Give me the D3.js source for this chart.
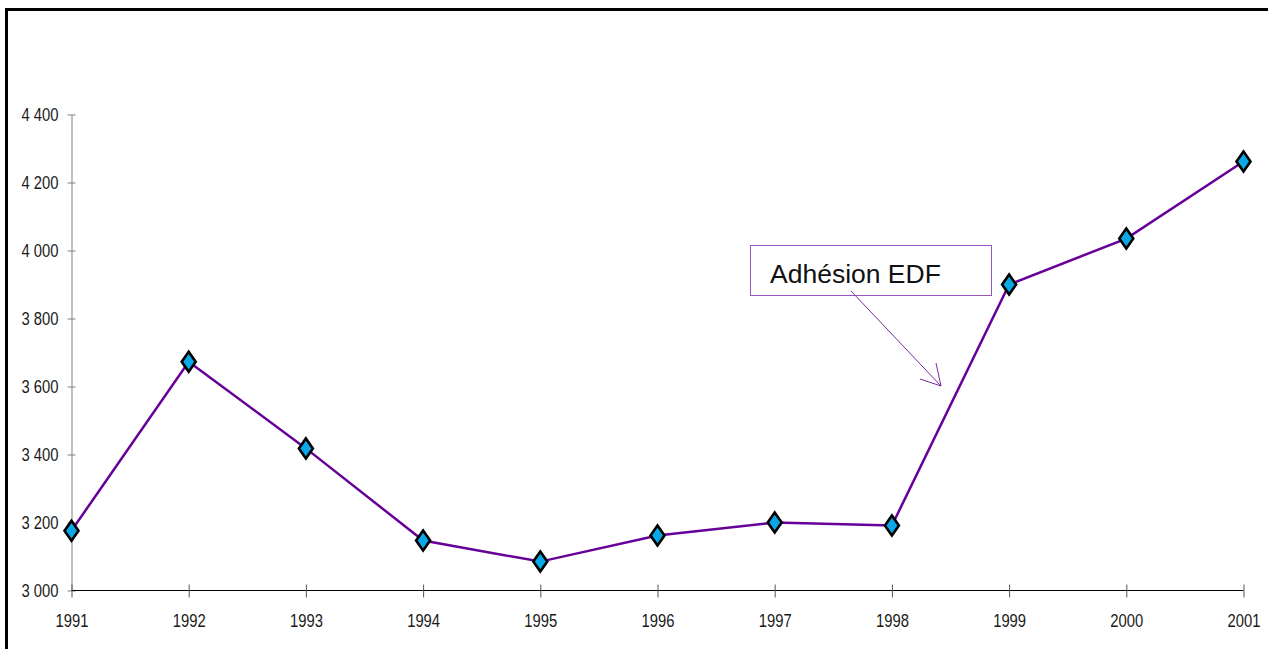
<!DOCTYPE html>
<html>
<head>
<meta charset="utf-8">
<script src="https://cdn.jsdelivr.net/npm/d3@7"></script>
<style>
  body { margin: 0; background: #fff; }
  svg { display: block; }
</style>
</head>
<body>
<svg id="chart"></svg>
<script>
const years = [1991, 1992, 1993, 1994, 1995, 1996, 1997, 1998, 1999, 2000, 2001];
const values = [3176, 3673, 3418, 3147, 3085, 3162, 3200, 3191, 3900, 4035, 4262];
const yTicks = [3000, 3200, 3400, 3600, 3800, 4000, 4200, 4400];
const note = "Adhésion EDF";

const w = 1268, h = 649;
const svg = d3.select('#chart')
    .attr('width', w)
    .attr('height', h);

// outer frame, only top and left visible
svg.append('path')
    .attr('d', `M6.5,${h} V9.5 H${w}`)
    .attr('fill', 'none')
    .attr('stroke', 'black')
    .attr('stroke-width', 3);

const xScale = d3.scalePoint()
    .domain(years)
    .range([71.5, 1243.5]);

const yScale = d3.scaleLinear()
    .domain([3000, 4400])
    .range([590.5, 114.5]);

// narrow look: Liberation Sans squeezed horizontally
const font = '"Liberation Sans", Arial, sans-serif';
const squeeze = 0.8;

// y axis
const yAxis = d3.axisLeft(yScale)
    .tickValues(yTicks)
    .tickSize(0)
    .tickPadding(13)
    .tickFormat(d => d3.format(',')(d).replace(',', ' '));

const gy = svg.append('g')
    .attr('transform', `translate(${xScale(1991)},0)`)
    .call(yAxis);
gy.select('.domain').attr('stroke', '#808080');
gy.selectAll('.tick text')
    .attr('x', -13 / squeeze)
    .attr('transform', `scale(${squeeze},1)`)
    .attr('fill', '#1a1a1a')
    .style('font-family', font)
    .style('font-size', '18.5px');
gy.selectAll('.tick').append('line')
    .attr('x1', -4).attr('x2', 4)
    .attr('stroke', '#808080');

// x axis
const xAxis = d3.axisBottom(xScale)
    .tickSize(0)
    .tickPadding(23);

const gx = svg.append('g')
    .attr('transform', `translate(0,${yScale(3000)})`)
    .call(xAxis);
gx.select('.domain').attr('stroke', 'black').attr('d', `M${xScale(1991)},0H${xScale(2001)}`);
gx.selectAll('.tick text')
    .attr('transform', `scale(${squeeze},1)`)
    .attr('fill', '#1a1a1a')
    .style('font-family', font)
    .style('font-size', '18.5px');
gx.selectAll('.tick').append('line')
    .attr('y1', -6).attr('y2', 7)
    .attr('stroke', '#555');

// series line
const line = d3.line()
    .x((d, i) => xScale(years[i]))
    .y(d => yScale(d));

svg.append('path')
    .datum(values)
    .attr('d', line)
    .attr('fill', 'none')
    .attr('stroke', '#660099')
    .attr('stroke-width', 2.5);

// diamond markers
svg.selectAll('.marker')
    .data(values)
    .join('path')
    .attr('class', 'marker')
    .attr('d', 'M0,-10 L7,0 L0,10 L-7,0 Z')
    .attr('transform', (d, i) => `translate(${xScale(years[i])},${yScale(d)})`)
    .attr('fill', '#0aa8e6')
    .attr('stroke', 'black')
    .attr('stroke-width', 2.6)
    .attr('stroke-linejoin', 'miter');

// annotation box
svg.append('rect')
    .attr('x', 750.5).attr('y', 245.5)
    .attr('width', 241).attr('height', 50)
    .attr('fill', 'white')
    .attr('stroke', '#9955bb')
    .attr('stroke-width', 1);

svg.append('text')
    .attr('x', 770).attr('y', 283)
    .style('font-family', '"Liberation Sans", Arial, sans-serif')
    .style('font-size', '26.5px')
    .attr('fill', '#111')
    .text(note);

// arrow
svg.append('line')
    .attr('x1', 851).attr('y1', 291)
    .attr('x2', 941).attr('y2', 386)
    .attr('stroke', '#7a2aa0')
    .attr('stroke-width', 1);
svg.append('path')
    .attr('d', 'M920,379 L941,386 L936,363')
    .attr('fill', 'none')
    .attr('stroke', '#7a2aa0')
    .attr('stroke-width', 1);
</script>
</body>
</html>
